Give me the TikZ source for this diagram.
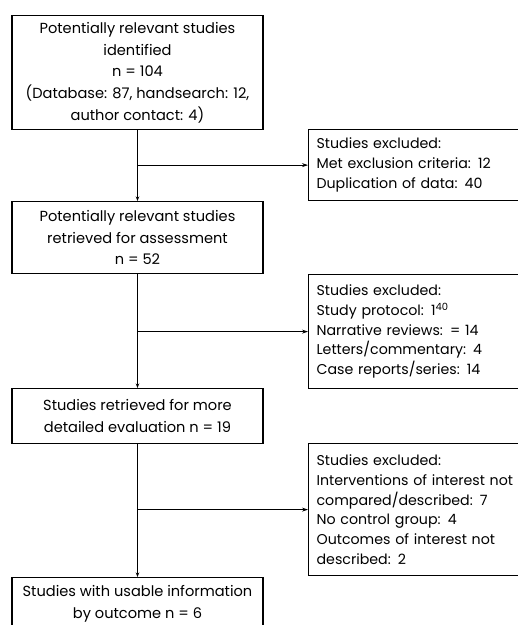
\documentclass[tikz,border=0pt]{standalone}
\usepackage{fontspec}
\setmainfont{Poppins}
\usetikzlibrary{arrows.meta}
\tikzset{
  mainbox/.style={draw, line width=1.2pt, minimum width=251pt, align=center, inner sep=0pt,
    font=\fontsize{14.6}{21.7}\selectfont},
  exclbox/.style={draw, line width=1.2pt, text width=260pt, align=left, inner sep=8pt,
    font=\fontsize{14.2}{19.8}\selectfont},
  vlink/.style={line width=1.5pt, -{Stealth[length=4.5pt,width=3.5pt]}},
  hlink/.style={line width=0.8pt, -{Stealth[length=6pt,width=4pt]}}
}
\begin{document}
\begin{tikzpicture}[x=1pt,y=-1pt]
\useasboundingbox (0,0) rectangle (518,625);
\clip (0,0) rectangle (518,625);
\node[mainbox, minimum height=114pt, anchor=north] (b1) at (137.5,15)
  {Potentially relevant studies\\identified\\n = 104\\(Database: 87, handsearch: 12,\\author contact: 4)};
\node[mainbox, minimum height=72pt, anchor=north] (b2) at (137.5,201)
  {Potentially relevant studies\\retrieved for assessment\\n = 52};
\node[mainbox, minimum height=55pt, anchor=north] (b3) at (137.5,388)
  {Studies retrieved for more\\detailed evaluation n = 19};
\node[mainbox, minimum height=52pt, anchor=north] (b4) at (137.5,577)
  {Studies with usable information\\by outcome n = 6};
\draw[line width=1.2pt] (b4.south west) -- ++(0,20) (b4.south east) -- ++(0,20);
\node[exclbox, minimum height=71pt, anchor=north west] (e1) at (308,129)
  {Studies excluded:\\Met exclusion criteria: 12\\Duplication of data: 40};
\node[exclbox, minimum height=114pt, anchor=north west] (e2) at (308,274)
  {Studies excluded:\\Study protocol: 1\textsuperscript{40}\\Narrative reviews: = 14\\Letters/commentary: 4\\Case reports/series: 14};
\node[exclbox, minimum height=132pt, anchor=north west] (e3) at (308,443)
  {Studies excluded:\\Interventions of interest not\\compared/described: 7\\No control group: 4\\Outcomes of interest not\\described: 2};
\draw[vlink] (b1) -- (b2);
\draw[vlink] (b2) -- (b3);
\draw[vlink] (b3) -- (b4);
\draw[hlink] (b1.south |- e1.west) -- (e1.west);
\draw[hlink] (b2.south |- e2.west) -- (e2.west);
\draw[hlink] (b3.south |- e3.west) -- (e3.west);
\end{tikzpicture}
\end{document}
